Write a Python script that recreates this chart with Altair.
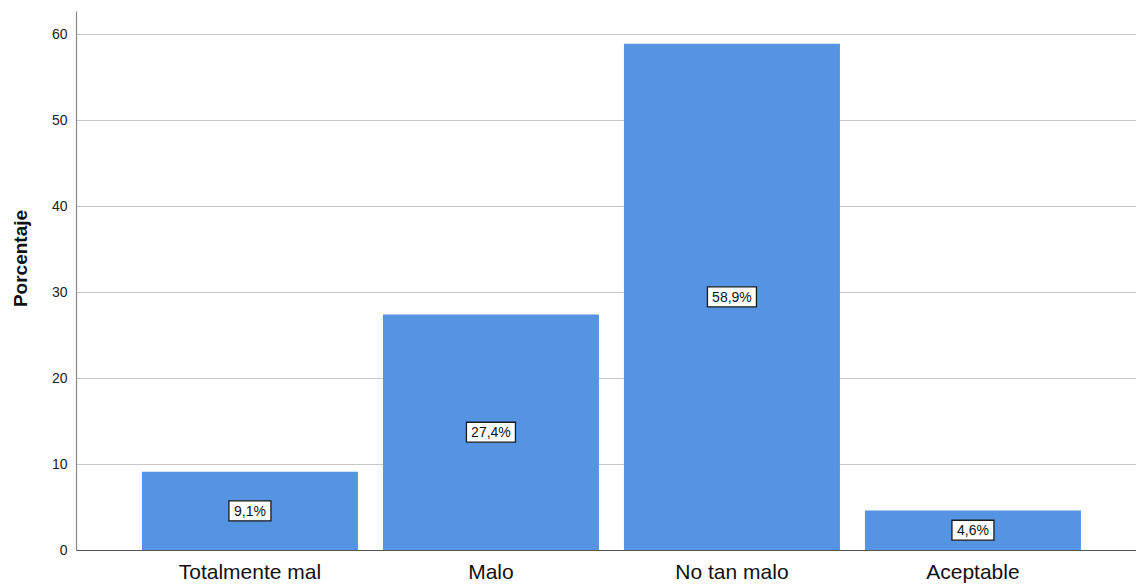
import altair as alt
import pandas as pd

categories = ["Totalmente mal", "Malo", "No tan malo", "Aceptable"]
values = [9.1, 27.4, 58.9, 4.6]
labels = ["9,1%", "27,4%", "58,9%", "4,6%"]
y_ticks = [0, 10, 20, 30, 40, 50, 60]

df = pd.DataFrame({"cat": categories, "val": values, "lab": labels})

xscale = alt.Scale(paddingInner=0.1037, paddingOuter=0.251, align=0.545)
xenc = alt.X("cat:N", sort=categories, title=None, scale=xscale,
             axis=alt.Axis(labelAngle=0, labelFontSize=21, labelColor="#111",
                           labelFont="Liberation Sans", ticks=False, labelPadding=11,
                           domainColor="#555", domainWidth=1.2, grid=False))

bars = alt.Chart(df).mark_bar(color="#5594E2").encode(
    x=xenc,
    y=alt.Y("val:Q", title="Porcentaje",
            scale=alt.Scale(domain=[0, 62.7], nice=False),
            axis=alt.Axis(values=y_ticks, ticks=False, labelFontSize=14,
                          labelColor="#222", labelFont="Liberation Sans",
                          labelPadding=9, titleFontSize=19, titleFont="Liberation Sans",
                          titleFontWeight="bold", titleColor="#111",
                          titleX=-56, titleY=247, titleAngle=270,
                          titleAlign="center", titleBaseline="middle",
                          domainColor="#888", domainWidth=1.2,
                          grid=True, gridColor="#c8c8c8", gridWidth=1)),
)

base = alt.Chart(df).transform_calculate(
    lo="datum.val/2 - 1.16", hi="datum.val/2 + 1.16", mid="datum.val/2",
    n="length(datum.lab)"
)

box4 = base.transform_filter("datum.n == 4").mark_bar(
    width=42, color="white", stroke="#1a1a1a", strokeWidth=1.3
).encode(x=alt.X("cat:N", sort=categories, scale=xscale), y="lo:Q", y2="hi:Q")
box5 = base.transform_filter("datum.n == 5").mark_bar(
    width=49, color="white", stroke="#1a1a1a", strokeWidth=1.3
).encode(x=alt.X("cat:N", sort=categories, scale=xscale), y="lo:Q", y2="hi:Q")

text = base.mark_text(fontSize=14, font="Liberation Sans", color="#111",
                      baseline="middle", dy=1).encode(
    x=alt.X("cat:N", sort=categories, scale=xscale), y="mid:Q", text="lab:N")

chart = alt.layer(bars, box4, box5, text).properties(
    width=1060, height=539,
    autosize=alt.AutoSizeParams(type="none"),
    padding={"left": 68, "top": 3, "right": 0, "bottom": 34},
).configure(background="white").configure_view(strokeWidth=0, stroke="transparent")

chart.save("out.html", embed_options={"renderer": "svg", "actions": False})
